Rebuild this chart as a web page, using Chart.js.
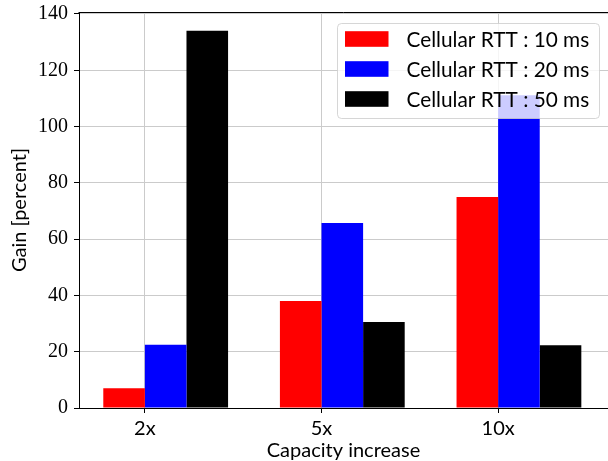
<!DOCTYPE html>
<html><head><meta charset="utf-8">
<script src="https://cdn.jsdelivr.net/npm/chart.js@4/dist/chart.umd.min.js"></script>
<style>html,body{margin:0;padding:0;background:#fff;}</style>
</head><body>
<canvas id="c" width="608" height="461" style="display:block;width:608px;height:461px"></canvas>
<script>
const categories = ['2x', '5x', '10x'];
const seriesLabels = ['Cellular RTT : 10 ms', 'Cellular RTT : 20 ms', 'Cellular RTT : 50 ms'];
const rtt10 = [7, 38, 75];
const rtt20 = [22.5, 65.7, 111.1];
const rtt50 = [134, 30.6, 22.3];
const yTicks = [0, 20, 40, 60, 80, 100, 120, 140];
const seriesValues = [rtt10, rtt20, rtt50];
const seriesColors = ['#ff0000', '#0000ff', '#000000'];

const BAR_W = 0.2355; // width of one bar in category units
const SANS = 'Lato, "Open Sans", sans-serif';
const SERIF = '"Liberation Serif", "DejaVu Serif", serif';
const GRID = '#cbcbcb';

const legendPlugin = {
  id: 'insideLegend',
  afterDatasetsDraw(chart) {
    const ctx = chart.ctx;
    const x0 = 337.5, y0 = 23.5, w = 262, h = 95, r = 4;
    ctx.save();
    ctx.beginPath();
    ctx.moveTo(x0 + r, y0);
    ctx.arcTo(x0 + w, y0, x0 + w, y0 + h, r);
    ctx.arcTo(x0 + w, y0 + h, x0, y0 + h, r);
    ctx.arcTo(x0, y0 + h, x0, y0, r);
    ctx.arcTo(x0, y0, x0 + w, y0, r);
    ctx.closePath();
    ctx.fillStyle = 'rgba(255,255,255,0.8)';
    ctx.fill();
    ctx.strokeStyle = 'rgba(204,204,204,0.8)';
    ctx.lineWidth = 1;
    ctx.stroke();
    ctx.font = '20.8px ' + SANS;
    ctx.textBaseline = 'middle';
    ctx.textAlign = 'left';
    chart.data.datasets.forEach((ds, i) => {
      const cy = 39 + i * 30;
      ctx.fillStyle = ds.backgroundColor;
      ctx.fillRect(345, cy - 7.8, 43.5, 15.6);
      ctx.fillStyle = '#000';
      ctx.fillText(ds.label, 406.5, cy + 1);
    });
    ctx.restore();
  },
  afterDraw(chart) {
    const ctx = chart.ctx;
    const a = chart.chartArea;
    ctx.save();
    ctx.strokeStyle = '#000';
    ctx.lineWidth = 1;
    ctx.beginPath();
    ctx.moveTo(a.left - 0.5, Math.round(a.top) + 0.5);
    ctx.lineTo(a.right, Math.round(a.top) + 0.5);
    ctx.stroke();
    ctx.restore();
  }
};

new Chart(document.getElementById('c'), {
  type: 'bar',
  data: {
    datasets: seriesLabels.map((label, k) => ({
      label: label,
      data: seriesValues[k].map((v, i) => ({ x: i + BAR_W / 2, y: v })),
      backgroundColor: seriesColors[k],
      borderWidth: 0,
      categoryPercentage: 3 * BAR_W,
      barPercentage: 1
    }))
  },
  options: {
    responsive: false,
    animation: false,
    devicePixelRatio: 1,
    layout: { padding: { top: 12, right: 0, left: 0, bottom: 0 } },
    plugins: { legend: { display: false }, tooltip: { enabled: false } },
    scales: {
      x: {
        type: 'linear',
        min: -0.373,
        max: 2.622,
        offset: false,
        afterBuildTicks: s => { s.ticks = categories.map((c, i) => ({ value: i })); },
        afterFit: s => { s.height = 53; s.paddingLeft = 0; s.paddingRight = 0; },
        ticks: {
          callback: v => categories[v],
          color: '#000',
          font: { family: SANS, size: 20, lineHeight: 1 },
          padding: 6,
          maxRotation: 0,
          autoSkip: false
        },
        grid: { offset: false, color: GRID, lineWidth: 1, drawTicks: true, tickLength: 5, tickColor: '#000' },
        border: { color: '#000', width: 1 },
        title: { display: true, text: 'Capacity increase', color: '#000',
                 font: { family: SANS, size: 20, lineHeight: 1 }, padding: 0 }
      },
      y: {
        min: 0,
        max: 140.7,
        afterBuildTicks: s => { s.ticks = yTicks.map(v => ({ value: v })); },
        afterFit: s => { s.width = 79; s.paddingTop = 0; s.paddingBottom = 0; },
        ticks: {
          color: '#000',
          font: { family: SERIF, size: 20, lineHeight: 1 },
          padding: 6
        },
        grid: { color: GRID, lineWidth: 1, drawTicks: true, tickLength: 5, tickColor: '#000' },
        border: { color: '#000', width: 1 },
        title: { display: true, text: 'Gain [percent]', color: '#000',
                 font: { family: SANS, size: 20, lineHeight: 1 }, padding: { top: 10, bottom: 0 } }
      }
    }
  },
  plugins: [legendPlugin]
});
</script>
</body></html>
